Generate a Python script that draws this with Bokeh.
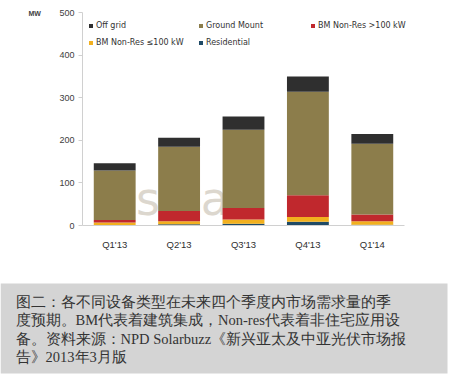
from bokeh.plotting import figure
from bokeh.models import (Legend, LegendItem, Label, LabelSet, Range1d,
                          FixedTicker, BoxAnnotation, ColumnDataSource)
from bokeh.embed import file_html
from bokeh.resources import INLINE

quarters = ["Q1'13", "Q2'13", "Q3'13", "Q4'13", "Q1'14"]
residential = [1, 3, 4, 9, 2]
bm_small = [6, 7, 10, 11, 8]
bm_large = [6, 24, 27, 51, 16]
ground_mount = [116, 151, 184, 243, 166]
off_grid = [17, 21, 31, 36, 23]

keys = ["residential", "bm_small", "bm_large", "ground_mount", "off_grid"]
labels = ["Residential", "BM Non-Res \u2264100 kW", "BM Non-Res >100 kW", "Ground Mount", "Off grid"]
colors = ["#1f4a66", "#f2b01e", "#c0282d", "#8c7d4b", "#2f2f2f"]
y_ticks = [0, 100, 200, 300, 400, 500]

caption_lines = [
    "图二：各不同设备类型在未来四个季度内市场需求量的季",
    "度预期。BM代表着建筑集成，Non-res代表着非住宅应用设",
    "备。资料来源：NPD Solarbuzz《新兴亚太及中亚光伏市场报",
    "告》2013年3月版",
]

positions = list(range(len(quarters)))
data = dict(x=positions, residential=residential, bm_small=bm_small,
            bm_large=bm_large, ground_mount=ground_mount, off_grid=off_grid)

W, H = 449, 376
# pixel geometry of the plot area inside the canvas
px_left, px_right, px_zero, px_top500 = 82, 404, 225, 12
cat_px = (px_right - px_left) / len(quarters)
y_scale = (px_zero - px_top500) / 500.0
x_start = -0.5 - px_left / cat_px
x_end = -0.5 + (W - px_left) / cat_px
y_start = -(H - px_zero) / y_scale
y_end = px_zero / y_scale

p = figure(x_range=Range1d(x_start, x_end), y_range=Range1d(y_start, y_end),
           width=W, height=H, output_backend="svg", toolbar_location=None,
           min_border=0, min_border_left=0, min_border_right=0,
           min_border_top=0, min_border_bottom=0)
p.outline_line_color = None
p.xgrid.visible = False
p.ygrid.visible = False

# faint watermark behind the bars
p.add_layout(Label(x=0.33, y=0, text="solar", text_font="DejaVu Sans",
                   text_font_size="46px", text_color="#dcd7ce", text_baseline="bottom",
                   text_align="left", level="underlay"))

renderers = p.vbar_stack(keys, x="x", width=0.65, color=colors, line_color=None, source=data)

tick_font = "Liberation Sans"
p.yaxis.fixed_location = -0.5
p.yaxis.bounds = (0, 500)
p.yaxis.ticker = FixedTicker(ticks=y_ticks)
p.yaxis.axis_line_color = "#d0d0d0"
p.yaxis.major_tick_line_color = "#d0d0d0"
p.yaxis.major_tick_out = 4
p.yaxis.major_tick_in = 0
p.yaxis.minor_tick_line_color = None
p.yaxis.major_label_text_font = tick_font
p.yaxis.major_label_text_font_size = "9px"
p.yaxis.major_label_text_color = "#404040"
p.yaxis.major_label_standoff = 4

p.xaxis.fixed_location = 0
p.xaxis.bounds = (-0.5, len(quarters) - 0.5)
p.xaxis.ticker = FixedTicker(ticks=positions)
p.xaxis.major_label_overrides = {i: q for i, q in zip(positions, quarters)}
p.xaxis.axis_line_color = "#d0d0d0"
p.xaxis.major_tick_line_color = None
p.xaxis.minor_tick_line_color = None
p.xaxis.major_label_text_font = tick_font
p.xaxis.major_label_text_font_size = "9.5px"
p.xaxis.major_label_text_color = "#303030"
p.xaxis.major_label_standoff = 7

p.add_layout(Label(x=28, y=H - 13, x_units="screen", y_units="screen", text="MW",
                   text_font=tick_font, text_font_size="7px", text_font_style="bold",
                   text_color="#404040", text_baseline="middle", text_align="left"))

# legend positions in canvas pixels from bottom-left: (renderer index, x, y)
legend_pos = [(4, 88, 346), (3, 198, 346), (2, 310, 346), (1, 88, 329), (0, 198, 329)]
for idx, lx, ly in legend_pos:
    leg = Legend(items=[LegendItem(label=labels[idx], renderers=[renderers[idx]])],
                 location=(lx, ly), orientation="horizontal", padding=0, margin=0,
                 glyph_width=5, glyph_height=5, label_standoff=3, label_height=10,
                 label_text_font="DejaVu Sans", label_text_font_size="8px",
                 label_text_color="#333333", background_fill_alpha=0,
                 border_line_color=None, spacing=0)
    p.add_layout(leg)

p.add_layout(BoxAnnotation(left=0, right=W - 2, top=H - 283, bottom=3,
                           left_units="screen", right_units="screen",
                           top_units="screen", bottom_units="screen",
                           fill_color="#d4d4d4", fill_alpha=1.0, line_color=None))
cap_src = ColumnDataSource(dict(x=[15] * 4, y=[H - 301, H - 319.5, H - 338, H - 356.5],
                                text=caption_lines))
p.add_layout(LabelSet(x="x", y="y", text="text", source=cap_src,
                      x_units="screen", y_units="screen",
                      text_font="Liberation Serif, Noto Sans CJK SC", text_font_size="14.5px",
                      text_color="#333333", text_baseline="middle", text_align="left"))

open("out.html", "w").write(file_html(p, INLINE))
